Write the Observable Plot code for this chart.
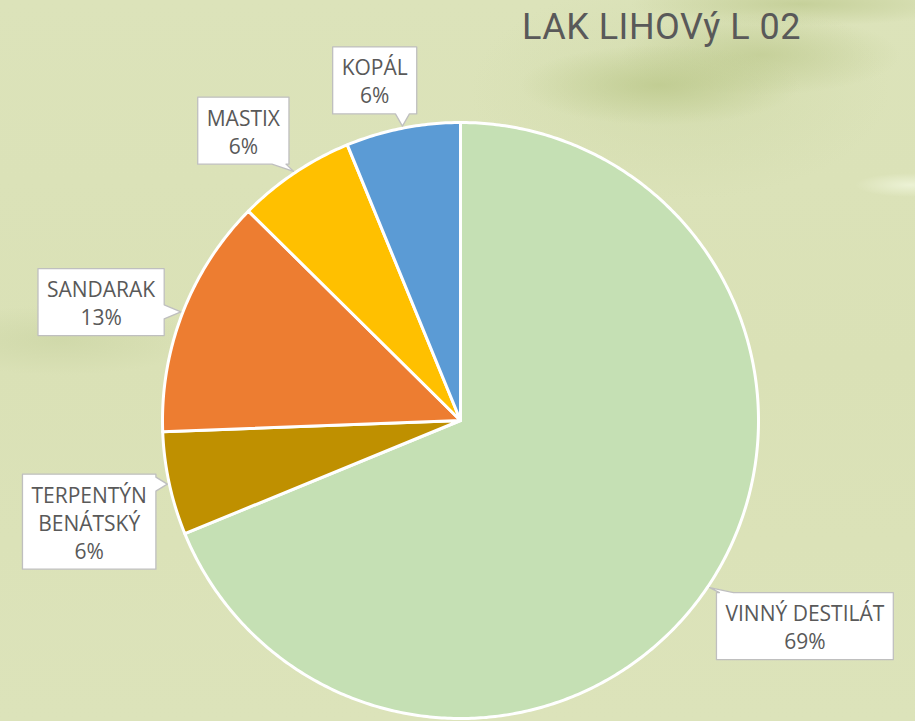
<!DOCTYPE html>
<html>
<head>
<meta charset="utf-8">
<script src="https://cdn.jsdelivr.net/npm/d3@7"></script>
<script src="https://cdn.jsdelivr.net/npm/@observablehq/plot@0.6"></script>
<style>
  html, body { margin: 0; padding: 0; }
  body {
    width: 915px; height: 721px; overflow: hidden; position: relative;
    background:
      radial-gradient(ellipse 55px 12px at 910px 185px, rgba(240,246,220,0.8), rgba(240,246,220,0) 100%),
      radial-gradient(ellipse 140px 40px at 660px 85px, rgba(185,198,135,0.7), rgba(185,198,135,0) 100%),
      radial-gradient(ellipse 140px 40px at 760px 55px, rgba(188,200,140,0.65), rgba(188,200,140,0) 100%),
      radial-gradient(ellipse 170px 22px at 800px 4px, rgba(188,200,140,0.7), rgba(188,200,140,0) 100%),
      radial-gradient(ellipse 210px 110px at 680px 90px, rgba(205,215,165,0.5), rgba(205,215,165,0) 100%),
      radial-gradient(ellipse 140px 35px at 60px 340px, rgba(200,210,160,0.55), rgba(200,210,160,0) 100%),
      linear-gradient(180deg, #DCE3BA 0%, #DAE1B6 50%, #DCE3BA 100%);
  }
  #title {
    position: absolute; left: 522px; top: 6px;
    font-family: Roboto, "DejaVu Sans", sans-serif; font-size: 36px; font-weight: 400; color: #595959;
    letter-spacing: 0.5px; white-space: nowrap;
  }
  #chart { position: absolute; left: 0; top: 0; }
</style>
</head>
<body>
<div id="title">LAK LIHOVý L 02</div>
<div id="chart"></div>
<script>
// ---- data ----
const categories = ["VINNÝ DESTILÁT", "TERPENTÝN\nBENÁTSKÝ", "SANDARAK", "MASTIX", "KOPÁL"];
const shares = [68.8, 5.6, 13.0, 6.4, 6.2];
const colors = ["#C5E0B4", "#BF9000", "#ED7D31", "#FFC000", "#5B9BD5"];

// ---- layout ----
const W = 915, H = 721;
const CX = 460, CY = 420, R = 298;
const FONT = "Open Sans";
const FS = 21, LINE_H = 28, PAD_X = 9, PAD_Y = 5.5, GAP = 10;
const LABEL_ROT = -3 * Math.PI / 180;

const data = categories.map((c, i) => ({name: c, value: shares[i], color: colors[i]}));
const total = d3.sum(shares);
const arcs = d3.pie().sort(null).value(d => d.value)(data);

// slice polygons (data units = pixels relative to center, y up)
const slicePts = [];
arcs.forEach(a => {
  slicePts.push({name: a.data.name, x: 0, y: 0});
  const n = Math.max(4, Math.ceil((a.endAngle - a.startAngle) / 0.01));
  for (let k = 0; k <= n; k++) {
    const t = a.startAngle + (a.endAngle - a.startAngle) * k / n;
    slicePts.push({name: a.data.name, x: R * Math.sin(t), y: R * Math.cos(t)});
  }
});

// label callouts
const ctx = document.createElement("canvas").getContext("2d");
ctx.font = `${FS}px "${FONT}"`;
const labels = [];
const calloutPts = [];
arcs.forEach(a => {
  const pct = Math.round(a.data.value / total * 100) + "%";
  const lines = a.data.name.split("\n").concat([pct]);
  const tw = d3.max(lines, l => ctx.measureText(l).width);
  const hw = tw / 2 + PAD_X, hh = lines.length * LINE_H / 2 + PAD_Y;
  const mid = (a.startAngle + a.endAngle) / 2;
  const lm = mid + LABEL_ROT;
  const ux = Math.sin(lm), uy = -Math.cos(lm); // screen (y down)
  const dist = R + GAP + Math.abs(ux) * hw + Math.abs(uy) * hh;
  const cx = CX + ux * dist, cy = CY + uy * dist;
  const tx = CX + Math.sin(mid) * (R + 2), ty = CY - Math.cos(mid) * (R + 2);
  const L = cx - hw, Rr = cx + hw, T = cy - hh, B = cy + hh;
  const rx = (tx - cx) / hw, ry = (ty - cy) / hh;
  const clamp = (v, lo, hi) => Math.max(lo, Math.min(hi, v));
  const bw = 7;
  let poly;
  if (Math.abs(rx) > Math.abs(ry)) {
    const yb = clamp(ty, T + 10, B - 10);
    if (rx > 0) poly = [[L,T],[Rr,T],[Rr,yb-bw],[tx,ty],[Rr,yb+bw],[Rr,B],[L,B]];
    else poly = [[L,T],[Rr,T],[Rr,B],[L,B],[L,yb+bw],[tx,ty],[L,yb-bw]];
  } else {
    const xb = clamp(tx, L + 10, Rr - 10);
    if (ry > 0) poly = [[L,T],[Rr,T],[Rr,B],[xb+bw,B],[tx,ty],[xb-bw,B],[L,B]];
    else poly = [[L,T],[xb-bw,T],[tx,ty],[xb+bw,T],[Rr,T],[Rr,B],[L,B]];
  }
  poly.forEach(([px, py]) => calloutPts.push({name: a.data.name, x: px - CX, y: CY - py}));
  labels.push({text: lines.join("\n"), x: cx - CX, y: CY - cy});
});

const chart = Plot.plot({
  width: W, height: H,
  margin: 0,
  style: {background: "transparent", overflow: "visible"},
  x: {domain: [-CX, W - CX], axis: null},
  y: {domain: [-(H - CY), CY], axis: null},
  color: {domain: categories, range: colors},
  marks: [
    Plot.line(slicePts, {x: "x", y: "y", z: "name", fill: "name", stroke: "white",
      strokeWidth: 3, strokeLinejoin: "round", curve: "linear-closed"}),
    Plot.line(calloutPts, {x: "x", y: "y", z: "name", fill: "white", stroke: "#BFBFBF",
      strokeWidth: 1.3, curve: "linear-closed"}),
    Plot.text(labels, {x: "x", y: "y", text: "text", fill: "#595959", fontSize: FS,
      fontFamily: FONT, lineHeight: LINE_H / FS, textAnchor: "middle"})
  ]
});
document.getElementById("chart").appendChild(chart);
</script>
</body>
</html>
